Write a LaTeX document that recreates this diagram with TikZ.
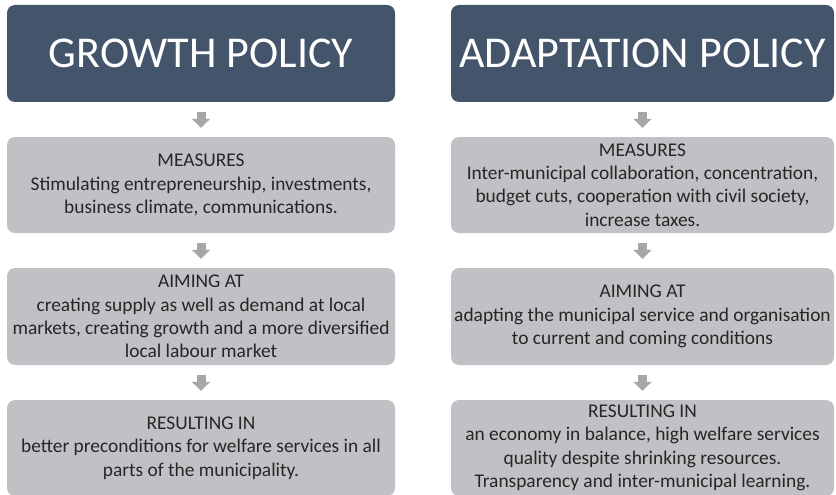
\documentclass[tikz,border=0pt]{standalone}
\usepackage{fontspec}
\setmainfont{Carlito}
\usetikzlibrary{arrows.meta}
\definecolor{hdr}{HTML}{44546A}
\definecolor{boxgray}{HTML}{C0C1C4}
\definecolor{arrowgray}{HTML}{A6A7A9}
\definecolor{txt}{HTML}{262626}
\begin{document}
\begin{tikzpicture}[x=1pt,y=1pt]
\tikzset{
  header/.style={rectangle, rounded corners=8pt, fill=hdr, text=white,
    minimum height=97pt, inner sep=0pt,
    font=\fontsize{44}{53}\selectfont},
  stage/.style={rectangle, rounded corners=8pt, fill=boxgray, text=txt,
    inner sep=0pt, align=center,
    font=\fontsize{19.4}{23.4}\selectfont},
  flow/.style={draw=arrowgray, line width=9pt,
    -{Triangle[length=9pt,width=18pt]}, shorten <=10pt, shorten >=9pt},
  leftcol/.style={minimum width=388pt},
  rightcol/.style={minimum width=383pt}
}
\useasboundingbox (0,0) rectangle (836,-495);

% left column: growth policy
\node[header, leftcol] (gh) at (201,-53.5) {GROWTH POLICY};
\node[stage, leftcol, minimum height=96pt] (gm) at (201,-185)
  {MEASURES\\Stimulating entrepreneurship, investments,\\business climate, communications.};
\node[stage, leftcol, minimum height=97pt] (ga) at (201,-316.5)
  {AIMING AT\\creating supply as well as demand at local\\markets, creating growth and a more diversified\\local labour market};
\node[stage, leftcol, minimum height=96pt] (gr) at (201,-448)
  {RESULTING IN\\better preconditions for welfare services in all\\parts of the municipality.};

% right column: adaptation policy
\node[header, rightcol] (ah) at (642.5,-53.5) {ADAPTATION POLICY};
\node[stage, rightcol, minimum height=96pt] (am) at (642.5,-185)
  {MEASURES\\Inter-municipal collaboration, concentration,\\budget cuts, cooperation with civil society,\\increase taxes.};
\node[stage, rightcol, minimum height=97pt] (aa) at (642.5,-316.5)
  {AIMING AT\\adapting the municipal service and organisation\\to current and coming conditions};
\node[stage, rightcol, minimum height=96pt] (ar) at (642.5,-448)
  {RESULTING IN\\an economy in balance, high welfare services\\quality despite shrinking resources.\\Transparency and inter-municipal learning.};

% flow arrows
\draw[flow] (gh) -- (gm);
\draw[flow] (gm) -- (ga);
\draw[flow] (ga) -- (gr);
\draw[flow] (ah) -- (am);
\draw[flow] (am) -- (aa);
\draw[flow] (aa) -- (ar);
\end{tikzpicture}
\end{document}
